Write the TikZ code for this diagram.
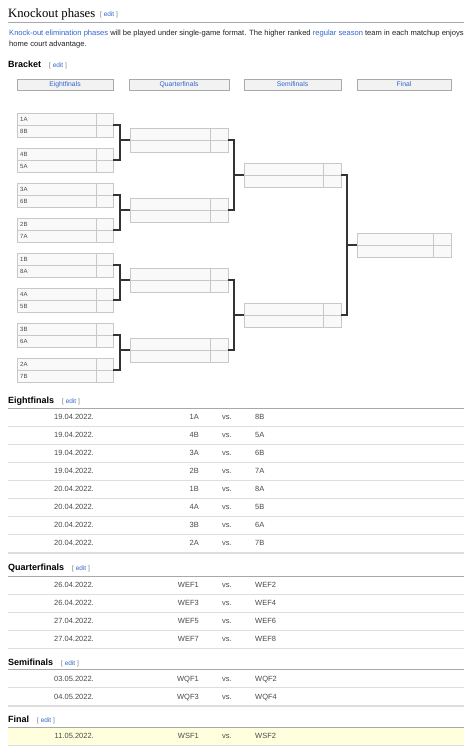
\documentclass[tikz,border=0pt]{standalone}
\usepackage{fontspec}
\setmainfont{Liberation Sans}
\newfontfamily\seriffont{Liberation Serif}
\usetikzlibrary{calc}
\definecolor{linkblue}{HTML}{3366CC}
\definecolor{bodytxt}{HTML}{202122}
\definecolor{tabgray}{HTML}{4A4A4A}
\definecolor{bracketgray}{HTML}{72777D}
\definecolor{cellborder}{HTML}{C8C8C8}
\definecolor{cellfill}{HTML}{F9F9F9}
\definecolor{hdrfill}{HTML}{F2F2F2}
\definecolor{hdrborder}{HTML}{AAAAAA}
\definecolor{connline}{HTML}{333333}
\definecolor{seprule}{HTML}{DDDDDD}
\definecolor{toprule}{HTML}{A8A8A8}
\definecolor{finalfill}{HTML}{FFFFDD}
\definecolor{titlerule}{HTML}{A2A9B1}
\newcommand\editlnk{\textcolor{bracketgray}{[} \textcolor{linkblue}{edit} \textcolor{bracketgray}{]}}
\tikzset{
  bodytext/.style={inner sep=0pt, anchor=base west, text=bodytxt, font=\fontsize{7.58}{9}\selectfont},
  secthead/.style={inner sep=0pt, anchor=base west, text=black, font=\bfseries\fontsize{9}{11}\selectfont},
  editnode/.style={inner sep=0pt, anchor=base west, font=\fontsize{6.5}{7}\selectfont},
  hdrbox/.style={draw=hdrborder, fill=hdrfill, line width=0.7pt, minimum height=11pt, inner sep=0pt, text=linkblue, font=\fontsize{6.8}{8}\selectfont},
  cellbox/.style={draw=cellborder, fill=cellfill, line width=0.8pt, minimum height=12pt, inner sep=0pt, outer sep=0pt, anchor=north west},
  teamlbl/.style={inner sep=0pt, anchor=west, text=tabgray, font=\fontsize{6}{7}\selectfont},
  conn/.style={draw=connline, line width=1.3pt},
  tabtext/.style={inner sep=0pt, text=tabgray, font=\fontsize{7.5}{9}\selectfont},
  seprulest/.style={draw=seprule, line width=0.8pt},
  toprulest/.style={draw=toprule, line width=0.7pt},
  botrulest/.style={draw=seprule, line width=1.6pt}
}
% match: name, x, ytop, name width, score width, team1, team2
\newcommand\mymatch[7]{%
  \node[cellbox, minimum width=#4pt] (#1a) at (#2,#3) {};
  \node[cellbox, minimum width=#5pt] (#1as) at (#2+#4,#3) {};
  \node[cellbox, minimum width=#4pt] (#1b) at (#2,#3+12) {};
  \node[cellbox, minimum width=#5pt] (#1bs) at (#2+#4,#3+12) {};
  \node[teamlbl] (#1at) at ($(#1a.west)+(3,0)$) {#6};
  \node[teamlbl] (#1bt) at ($(#1b.west)+(3,0)$) {#7};
  \coordinate (#1out) at (#1as.south east);
  \coordinate (#1in) at (#1a.south west);
}
% table row: name, ytop, date, team1, team2
\newcommand\tabrow[5]{%
  \node[tabtext, anchor=mid east] (#1d) at (94,#2+9) {#3};
  \node[tabtext, anchor=mid east] (#1t) at (199,#2+9) {#4};
  \node[tabtext, anchor=mid] (#1v) at (227,#2+9) {vs.};
  \node[tabtext, anchor=mid west] (#1u) at (255,#2+9) {#5};
}
\begin{document}
\begin{tikzpicture}[x=1pt,y=-1pt]
\useasboundingbox (0,0) rectangle (471,750);
\fill[white] (0,0) rectangle (471,750);

% Title
\node[inner sep=0pt, anchor=base west, font=\seriffont\fontsize{12.7}{14}\selectfont] (title) at (8,17) {Knockout phases};
\node[editnode] (titleedit) at (100,16) {\editlnk};
\draw[draw=titlerule, line width=0.7pt] (8,22) -- (464,22);

\node[bodytext] (para1) at (9,35) {\textcolor{linkblue}{Knock-out elimination phases} will be played under single-game format. The higher ranked \textcolor{linkblue}{regular season} team in each matchup enjoys};
\node[bodytext] (para2) at (9,46.5) {home court advantage.};

% Bracket heading
\node[secthead] (brh) at (8,67.5) {Bracket};
\node[editnode] (bre) at (49,67) {\editlnk};

% Round headers
\node[hdrbox, minimum width=96pt] (h1) at (65,84.5) {Eightfinals};
\node[hdrbox, minimum width=100pt] (h2) at (179,84.5) {Quarterfinals};
\node[hdrbox, minimum width=97pt] (h3) at (292.5,84.5) {Semifinals};
\node[hdrbox, minimum width=94pt] (h4) at (404,84.5) {Final};

% Eightfinals
\mymatch{ef1}{17}{113}{79}{17}{1A}{8B}
\mymatch{ef2}{17}{148}{79}{17}{4B}{5A}
\mymatch{ef3}{17}{183}{79}{17}{3A}{6B}
\mymatch{ef4}{17}{218}{79}{17}{2B}{7A}
\mymatch{ef5}{17}{253}{79}{17}{1B}{8A}
\mymatch{ef6}{17}{288}{79}{17}{4A}{5B}
\mymatch{ef7}{17}{323}{79}{17}{3B}{6A}
\mymatch{ef8}{17}{358}{79}{17}{2A}{7B}
% Quarterfinals
\mymatch{qf1}{130}{128}{80}{18}{}{}
\mymatch{qf2}{130}{198}{80}{18}{}{}
\mymatch{qf3}{130}{268}{80}{18}{}{}
\mymatch{qf4}{130}{338}{80}{18}{}{}
% Semifinals
\mymatch{sf1}{244}{163}{79}{18}{}{}
\mymatch{sf2}{244}{303}{79}{18}{}{}
% Final
\mymatch{fin}{357}{233}{76}{18}{}{}

% connectors
\coordinate (j1) at (120,140);
\coordinate (j2) at (120,210);
\coordinate (j3) at (120,280);
\coordinate (j4) at (120,350);
\coordinate (k1) at (234,175);
\coordinate (k2) at (234,315);
\coordinate (l1) at (347,245);
\draw[conn] (ef1out) -| (j1) |- (ef2out);
\draw[conn] (j1) -- (qf1in);
\draw[conn] (ef3out) -| (j2) |- (ef4out);
\draw[conn] (j2) -- (qf2in);
\draw[conn] (ef5out) -| (j3) |- (ef6out);
\draw[conn] (j3) -- (qf3in);
\draw[conn] (ef7out) -| (j4) |- (ef8out);
\draw[conn] (j4) -- (qf4in);
\draw[conn] (qf1out) -| (k1) |- (qf2out);
\draw[conn] (k1) -- (sf1in);
\draw[conn] (qf3out) -| (k2) |- (qf4out);
\draw[conn] (k2) -- (sf2in);
\draw[conn] (sf1out) -| (l1) |- (sf2out);
\draw[conn] (l1) -- (finin);

% Eightfinals table
\node[secthead] (efh) at (8,403.5) {Eightfinals};
\node[editnode] (efe) at (62,403) {\editlnk};
\draw[toprulest] (8,408) -- (464,408);
\tabrow{r1}{408}{19.04.2022.}{1A}{8B}
\tabrow{r2}{426}{19.04.2022.}{4B}{5A}
\tabrow{r3}{444}{19.04.2022.}{3A}{6B}
\tabrow{r4}{462}{19.04.2022.}{2B}{7A}
\tabrow{r5}{480}{20.04.2022.}{1B}{8A}
\tabrow{r6}{498}{20.04.2022.}{4A}{5B}
\tabrow{r7}{516}{20.04.2022.}{3B}{6A}
\tabrow{r8}{534}{20.04.2022.}{2A}{7B}
\foreach \yy in {426,444,462,480,498,516,534} {\draw[seprulest] (8,\yy) -- (464,\yy);}
\draw[botrulest] (8,553) -- (464,553);

% Quarterfinals table
\node[secthead] (qfh) at (8,570.5) {Quarterfinals};
\node[editnode] (qfe) at (72,570) {\editlnk};
\draw[toprulest] (8,576) -- (464,576);
\tabrow{q1}{576}{26.04.2022.}{WEF1}{WEF2}
\tabrow{q2}{594}{26.04.2022.}{WEF3}{WEF4}
\tabrow{q3}{612}{27.04.2022.}{WEF5}{WEF6}
\tabrow{q4}{630}{27.04.2022.}{WEF7}{WEF8}
\foreach \yy in {594,612,630} {\draw[seprulest] (8,\yy) -- (464,\yy);}
\draw[botrulest] (8,648.5) -- (464,648.5);

% Semifinals table
\node[secthead] (sfh) at (8,665.5) {Semifinals};
\node[editnode] (sfe) at (61,665) {\editlnk};
\draw[toprulest] (8,669.5) -- (464,669.5);
\tabrow{s1}{669.5}{03.05.2022.}{WQF1}{WQF2}
\tabrow{s2}{687.5}{04.05.2022.}{WQF3}{WQF4}
\draw[seprulest] (8,687.5) -- (464,687.5);
\draw[botrulest] (8,706) -- (464,706);

% Final table
\node[secthead] (fnh) at (8,722.5) {Final};
\node[editnode] (fne) at (37,722) {\editlnk};
\fill[finalfill] (8,727) rectangle (464,745);
\draw[toprulest] (8,727) -- (464,727);
\tabrow{f1}{727}{11.05.2022.}{WSF1}{WSF2}
\draw[botrulest] (8,745.5) -- (464,745.5);
\end{tikzpicture}
\end{document}
